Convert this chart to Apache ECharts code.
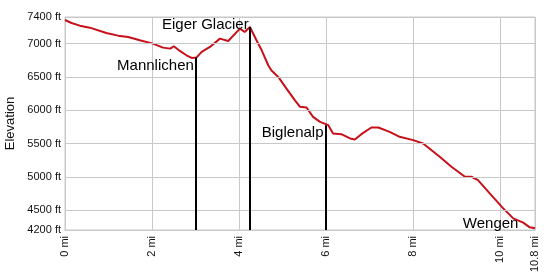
<!DOCTYPE html>
<html><head><meta charset="utf-8">
<script src="https://cdn.jsdelivr.net/npm/echarts@6/dist/echarts.min.js"></script>
<style>html,body{margin:0;padding:0;background:#fff}#c{width:550px;height:278px}</style>
</head><body><div id="c"></div>
<script>
const distance = [0,0.15,0.34,0.57,0.95,1.22,1.45,1.72,2.02,2.25,2.42,2.5,2.64,2.79,2.91,3.02,3.14,3.33,3.56,3.75,4.02,4.13,4.25,4.4,4.52,4.67,4.74,4.9,5.09,5.28,5.4,5.55,5.7,5.86,6.05,6.16,6.35,6.55,6.66,6.81,7.04,7.2,7.46,7.69,8.0,8.23,8.61,8.88,9.19,9.34,9.49,9.76,10.07,10.3,10.53,10.68,10.8];
const elevation = [7355,7310,7270,7240,7160,7120,7100,7050,7000,6940,6925,6960,6890,6825,6785,6790,6875,6950,7075,7040,7225,7175,7250,7050,6900,6675,6600,6500,6325,6150,6050,6040,5900,5825,5775,5650,5640,5575,5560,5640,5740,5740,5675,5600,5550,5500,5300,5150,5000,5000,4950,4750,4525,4375,4310,4240,4225];
const yTicks = [4200,4500,5000,5500,6000,6500,7000,7400];
const xMin = 0, xMax = 10.8, xStep = 2;
const markerNames = ['Mannlichen','Eiger Glacier','Biglenalp'];
const markerDist = [3.0,4.25,6.0];
const markerElev = [6790,7250,5775];
const labelNames = ['Mannlichen','Eiger Glacier','Biglenalp','Wengen'];
const labelDist = [2.96,4.22,5.94,10.42];
const labelElev = [6665,7280,5665,4285];

const pts = distance.map((d,i)=>[d,elevation[i]]);
const chart = echarts.init(document.getElementById('c'));
const txt = '#111';
chart.setOption({
  animation:false,
  grid:{left:65,right:15,top:17,bottom:48,show:true,borderColor:'#c8c8c8',borderWidth:1,outerBoundsMode:'none',containLabel:false},
  xAxis:{type:'value',min:xMin,max:xMax,interval:xStep,
    name:'Distance',nameLocation:'middle',nameGap:31,
    nameTextStyle:{fontFamily:'Liberation Sans',fontSize:13,color:txt},
    axisLine:{show:true,lineStyle:{color:'#c8c8c8'}},
    axisTick:{show:false},
    axisLabel:{rotate:90,margin:6,formatter:v=>v+' mi',fontFamily:'Liberation Sans',fontSize:11,color:txt,showMaxLabel:true},
    splitLine:{show:true,lineStyle:{color:'#c8c8c8'}}},
  yAxis:{type:'value',min:4200,max:7400,
    name:'Elevation',nameLocation:'middle',nameGap:45,
    nameTextStyle:{fontFamily:'Liberation Sans',fontSize:13,color:txt},
    axisLine:{show:true,lineStyle:{color:'#c8c8c8'}},
    axisTick:{show:false,customValues:yTicks},
    axisLabel:{customValues:yTicks,margin:4,formatter:v=>v+' ft',fontFamily:'Liberation Sans',fontSize:11,color:txt},
    splitLine:{show:false}},
  series:[{
    type:'line',data:pts,showSymbol:false,smooth:false,
    lineStyle:{color:'#c8101a',width:2},
    z:3,
    markLine:{silent:true,symbol:'none',animation:false,
      label:{show:false},
      data:[
        ...yTicks.map(v=>({yAxis:v,lineStyle:{color:'#c8c8c8',width:1,type:'solid'}})),
        ...markerDist.map((d,i)=>[{coord:[d,4200],lineStyle:{color:'#000',width:2,type:'solid'}},{coord:[d,markerElev[i]]}])
      ]},
    markPoint:{silent:true,symbol:'circle',symbolSize:0,
      data:labelNames.map((n,i)=>({coord:[labelDist[i],labelElev[i]],label:{show:true,formatter:n,position:'left',distance:0,fontFamily:'Liberation Sans',fontSize:15,color:'#000'}}))}
  }]
});
</script></body></html>
